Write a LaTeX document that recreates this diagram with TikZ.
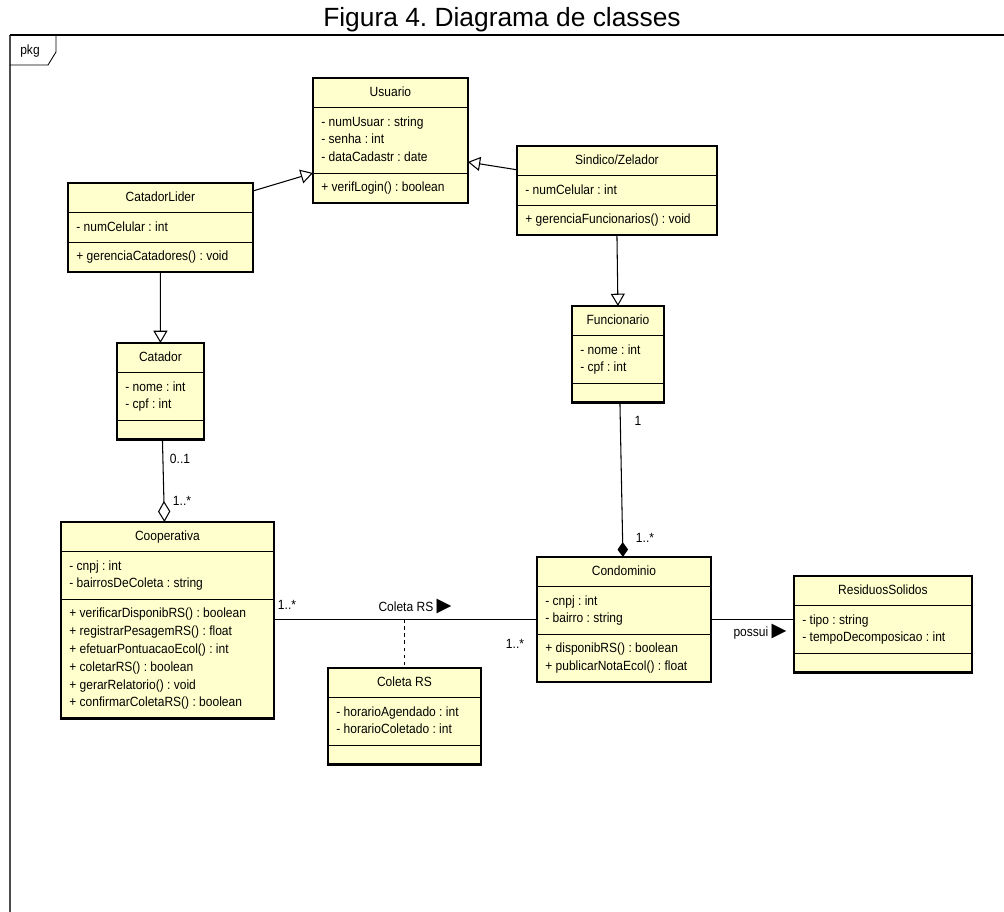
\documentclass[tikz,border=0pt]{standalone}
\usepackage{fontspec}
\usepackage{tikz}
\usetikzlibrary{shapes.multipart,arrows.meta}
\setmainfont{Liberation Sans}
\newfontfamily\umlfont[FakeStretch=0.9]{Liberation Sans}
\newfontfamily\symb{DejaVu Sans}
\definecolor{umlyellow}{RGB}{255,255,206}
\frenchspacing

\begin{document}
\begin{tikzpicture}[
    umlclass/.style={rectangle split, rectangle split parts=3, draw, fill=umlyellow,
      line width=0.5pt, anchor=north west, minimum width=#1, inner xsep=4.5pt, inner ysep=3pt,
      rectangle split part align={center,left,left}, align=left,
      font=\umlfont\fontsize{7.6pt}{10.2pt}\selectfont},
    mult/.style={font=\umlfont\fontsize{7.6pt}{9pt}\selectfont, inner sep=1pt},
    conn/.style={line width=0.6pt},
    gen/.style={conn, -{Triangle[open, length=7pt, width=8pt]}},
    agg/.style={conn, -{Diamond[open, length=12pt, width=7pt]}},
    comp/.style={conn, -{Diamond[length=8.5pt, width=6pt]}}]
  \useasboundingbox (0,0) rectangle (20.08,-18.24);

  % titulo e moldura
  \node (titulo) at (10.04,-0.4) {\fontsize{15pt}{18pt}\selectfont Figura 4. Diagrama de classes};
  \draw[line width=0.8pt, black!70] (0.2,-18.24) -- (0.2,-0.7);
  \draw[line width=0.8pt] (0.2,-0.7) -- (20.08,-0.7);
  \draw[line width=0.5pt] (0.2,-1.3) -- (0.96,-1.3) -- (1.12,-1.04) -- (1.12,-0.7);
  \node[mult] (pkg) at (0.6,-1.02) {pkg};

  % classes
  \node[umlclass=3.08cm] (usuario) at (6.26,-1.56)
    {\strut Usuario
     \nodepart{two}\strut - numUsuar : string\\\strut - senha : int\\\strut - dataCadastr : date
     \nodepart{three}\strut + verifLogin() : boolean};
  \node[umlclass=3.68cm] (catadorlider) at (1.36,-3.66)
    {\strut CatadorLider
     \nodepart{two}\strut - numCelular : int
     \nodepart{three}\strut + gerenciaCatadores() : void};
  \node[umlclass=3.98cm] (sindico) at (10.34,-2.92)
    {\strut Sindico/Zelador
     \nodepart{two}\strut - numCelular : int
     \nodepart{three}\strut + gerenciaFuncionarios() : void};
  \node[umlclass=1.72cm] (catador) at (2.34,-6.86)
    {\strut Catador
     \nodepart{two}\strut - nome : int\\\strut - cpf : int
     \nodepart{three}\rule{0pt}{0pt}};
  \node[umlclass=1.82cm] (funcionario) at (11.44,-6.12)
    {\strut Funcionario
     \nodepart{two}\strut - nome : int\\\strut - cpf : int
     \nodepart{three}\rule{0pt}{0pt}};
  \node[umlclass=4.24cm] (cooperativa) at (1.22,-10.44)
    {\strut Cooperativa
     \nodepart{two}\strut - cnpj : int\\\strut - bairrosDeColeta : string
     \nodepart{three}\strut + verificarDisponibRS() : boolean\\\strut + registrarPesagemRS() : float\\
       \strut + efetuarPontuacaoEcol() : int\\\strut + coletarRS() : boolean\\
       \strut + gerarRelatorio() : void\\\strut + confirmarColetaRS() : boolean};
  \node[umlclass=3.04cm] (coletars) at (6.56,-13.36)
    {\strut Coleta RS
     \nodepart{two}\strut - horarioAgendado : int\\\strut - horarioColetado : int
     \nodepart{three}\rule{0pt}{0pt}};
  \node[umlclass=3.46cm] (condominio) at (10.74,-11.14)
    {\strut Condominio
     \nodepart{two}\strut - cnpj : int\\\strut - bairro : string
     \nodepart{three}\strut + disponibRS() : boolean\\\strut + publicarNotaEcol() : float};
  \node[umlclass=3.54cm] (residuos) at (15.88,-11.52)
    {\strut ResiduosSolidos
     \nodepart{two}\strut - tipo : string\\\strut - tempoDecomposicao : int
     \nodepart{three}\rule{0pt}{0pt}};

  \foreach \n in {usuario,catadorlider,sindico,catador,funcionario,cooperativa,coletars,condominio,residuos}
    \draw[line width=1.3pt] (\n.north west) rectangle (\n.south east);

  % heranca
  \draw[gen] ([yshift=-0.16cm]catadorlider.north east) -- (usuario.two split west);
  \draw[gen] ([yshift=0.12cm]sindico.text split west) -- ([yshift=0.22cm]usuario.two split east);
  \draw[gen] (catadorlider.south) -- (catador.north);
  \draw[gen] (sindico.south) -- (funcionario.north);

  % associacoes
  \draw[agg] ([xshift=0.04cm]catador.south) -- ([xshift=-0.06cm]cooperativa.north);
  \node[mult] (m1) at (3.6,-9.18) {0..1};
  \node[mult] (m2) at (3.64,-10.02) {1..*};

  \draw[comp] ([xshift=0.04cm]funcionario.south) -- ([xshift=-0.02cm]condominio.north);
  \node[mult] (m3) at (12.76,-8.42) {1};
  \node[mult] (m4) at (12.9,-10.76) {1..*};

  \draw[conn] (cooperativa.east |- condominio.west) -- (condominio.west);
  \node[mult] (m5) at (5.74,-12.1) {1..*};
  \node[mult] (m6) at (10.3,-12.88) {1..*};
  \node[mult] (coleta) at (8.3,-12.12) {Coleta RS {\symb\fontsize{11pt}{11pt}\selectfont ▶}};
  \draw[conn, dash pattern=on 2pt off 2pt] (coletars.north |- condominio.west) -- (coletars.north);

  \draw[conn] (condominio.east) -- (condominio.east -| residuos.west);
  \node[mult] (possui) at (15.2,-12.64) {possui {\symb\fontsize{11pt}{11pt}\selectfont ▶}};
\end{tikzpicture}
\end{document}
